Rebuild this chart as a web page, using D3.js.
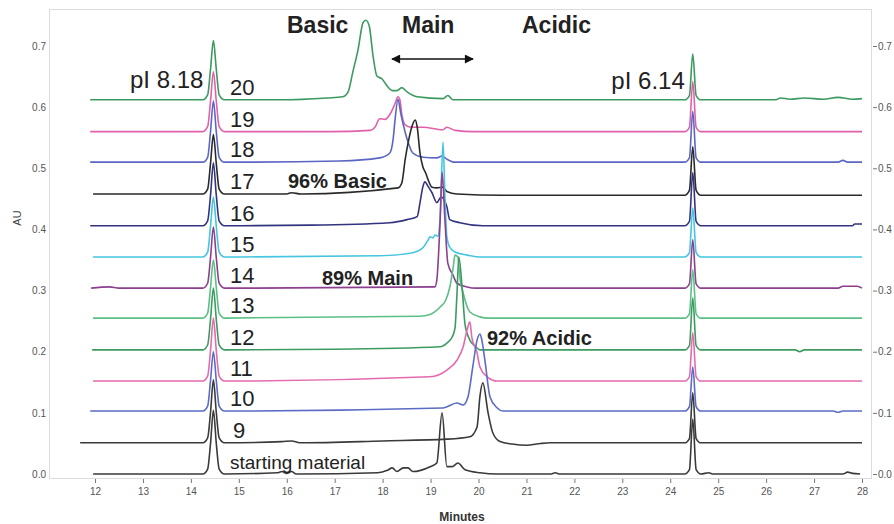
<!DOCTYPE html>
<html>
<head>
<meta charset="utf-8">
<script src="https://cdn.jsdelivr.net/npm/d3@7"></script>
<style>
  body { margin: 0; background: #fff; }
  svg { display: block; font-family: "Liberation Sans", Arial, sans-serif; }
  .tick-label { fill: #555; font-size: 10px; }
</style>
</head>
<body>
<div id="chart"></div>
<script>
// fractions, bottom to top
var fractions = ["starting material", "9", "10", "11", "12", "13", "14", "15", "16", "17", "18", "19", "20"];
var colors = ["#3a3a3a", "#3a3a3a", "#5b6bc6", "#e46aae", "#3d9b60", "#5cbf85", "#8c3f8f",
              "#45c5e0", "#33347f", "#2a2a2a", "#5b66c4", "#e060aa", "#3b9a5f"];
// stacking offset of each trace (AU)
var offsets = [0, 0.051, 0.103, 0.152, 0.203, 0.255, 0.304, 0.355, 0.406, 0.458, 0.51, 0.56, 0.612];

var xTicks = [12, 13, 14, 15, 16, 17, 18, 19, 20, 21, 22, 23, 24, 25, 26, 27, 28];
var yTicks = [0, 0.1, 0.2, 0.3, 0.4, 0.5, 0.6, 0.7];

// [minutes, AU above the trace's own baseline]
var smTrace = [[11.96,0],[14.25,0],[14.35,0.008],[14.41,0.05],[14.47,0.104],[14.53,0.05],[14.59,0.008],[14.7,0],
  [15.8,0.002],[15.9,0.004],[16.0,0.001],[16.1,0.004],[16.2,0],[17.9,0.002],[18.1,0.006],[18.2,0.01],[18.3,0.004],
  [18.43,0.01],[18.53,0.01],[18.63,0.004],[18.99,0.012],[19.13,0.018],[19.24,0.1],[19.34,0.012],[19.45,0.012],
  [19.57,0.018],[19.72,0.007],[20.03,0.002],[20.4,0],[21.5,0],[21.6,0.002],[21.7,0],[24.3,0],[24.4,0.007],
  [24.47,0.09],[24.54,0.007],[24.64,0],[24.8,0.002],[24.9,0],[27.6,0],[27.7,0.003],[27.8,0.001],[27.96,0]];
var f9 = [[11.69,0],[14.25,0],[14.35,0.008],[14.41,0.05],[14.47,0.103],[14.53,0.05],[14.59,0.008],[14.7,0],
  [15.9,0.002],[16.1,0.003],[16.3,0],[18.0,0.003],[19.34,0.006],[19.82,0.01],[19.97,0.026],[20.03,0.076],
  [20.09,0.098],[20.2,0.049],[20.3,0.016],[20.45,0.002],[20.7,-0.002],[21.0,-0.004],[21.3,-0.001],[21.5,0],
  [24.3,0],[24.4,0.007],[24.47,0.082],[24.54,0.007],[24.64,0],[28.0,0]];
var f10 = [[11.9,0],[14.25,0],[14.35,0.008],[14.41,0.05],[14.47,0.097],[14.53,0.05],[14.59,0.008],[14.7,0],
  [19.26,0.005],[19.55,0.013],[19.68,0.01],[19.78,0.023],[19.88,0.072],[19.97,0.116],[20.03,0.126],[20.07,0.116],
  [20.14,0.079],[20.24,0.023],[20.39,0.005],[20.51,0],[24.3,0],[24.4,0.007],[24.47,0.072],[24.54,0.007],
  [24.64,0],[27.4,0],[27.5,-0.002],[27.6,0],[28.0,0]];
var f11 = [[11.96,0],[14.25,0],[14.35,0.008],[14.41,0.05],[14.47,0.103],[14.53,0.05],[14.59,0.008],[14.7,0],
  [18.99,0.007],[19.34,0.018],[19.55,0.034],[19.68,0.056],[19.76,0.083],[19.82,0.097],[19.86,0.072],
  [19.97,0.046],[20.03,0.023],[20.18,0.007],[20.39,0],[24.3,0],[24.4,0.007],[24.47,0.079],[24.54,0.007],
  [24.64,0],[28.0,0]];
var f12 = [[11.94,0],[14.25,0],[14.35,0.008],[14.41,0.05],[14.47,0.101],[14.53,0.05],[14.59,0.008],[14.7,0],
  [17.0,0.001],[19.2,0.005],[19.34,0.011],[19.45,0.021],[19.51,0.036],[19.55,0.09],[19.59,0.152],[19.66,0.1],
  [19.72,0.041],[19.82,0.016],[19.93,0.006],[20.03,0],[24.3,0],[24.4,0.007],[24.47,0.085],[24.54,0.007],
  [24.64,0],[26.6,0],[26.7,-0.003],[26.8,0],[28.0,0]];
var f13 = [[11.96,0],[14.25,0],[14.35,0.008],[14.41,0.05],[14.47,0.095],[14.53,0.05],[14.59,0.008],[14.7,0],
  [18.78,0.003],[18.99,0.006],[19.2,0.018],[19.32,0.03],[19.4,0.05],[19.47,0.082],[19.51,0.103],[19.57,0.1],
  [19.61,0.067],[19.68,0.041],[19.82,0.01],[20.03,0.002],[20.2,0],[24.3,0],[24.4,0.007],[24.47,0.079],
  [24.54,0.007],[24.64,0],[28.0,0]];
var f14 = [[11.92,0],[12.3,0.002],[12.5,0],[14.25,0],[14.35,0.008],[14.41,0.05],[14.47,0.1],[14.53,0.05],
  [14.59,0.008],[14.7,0],[19.09,0.002],[19.13,0.013],[19.2,0.111],[19.24,0.19],[19.3,0.111],[19.36,0.041],
  [19.47,0.021],[19.55,0.008],[19.76,0.002],[19.95,0],[24.3,0],[24.4,0.007],[24.47,0.079],[24.54,0.007],
  [24.64,0],[27.5,0],[27.6,0.003],[27.9,0.003],[28.0,0]];
var f15 = [[11.96,0],[14.25,0],[14.35,0.008],[14.41,0.05],[14.47,0.098],[14.53,0.05],[14.59,0.008],[14.7,0],
  [17.94,0.002],[18.63,0.007],[18.84,0.015],[18.95,0.028],[18.99,0.033],[19.05,0.031],[19.09,0.036],
  [19.15,0.034],[19.2,0.065],[19.26,0.188],[19.3,0.098],[19.34,0.033],[19.4,0.016],[19.51,0.008],
  [19.76,0.003],[20.0,0],[24.3,0],[24.4,0.007],[24.47,0.08],[24.54,0.007],[24.64,0],[28.0,0]];
var f16 = [[11.9,0],[14.25,0],[14.35,0.008],[14.41,0.05],[14.47,0.103],[14.53,0.05],[14.59,0.008],[14.7,0],
  [16.5,0.001],[18.15,0.005],[18.51,0.01],[18.72,0.015],[18.78,0.038],[18.84,0.064],[18.88,0.072],
  [18.95,0.064],[19.03,0.054],[19.13,0.038],[19.22,0.047],[19.3,0.04],[19.34,0.031],[19.4,0.01],
  [19.61,0.005],[20.09,0],[24.3,0],[24.4,0.007],[24.47,0.087],[24.54,0.007],[24.64,0],[27.8,0],
  [27.85,0.003],[28.0,0.003]];
var f17 = [[11.96,0],[14.25,0],[14.35,0.008],[14.41,0.05],[14.47,0.097],[14.53,0.05],[14.59,0.008],[14.7,0],
  [16.0,0],[16.1,0.002],[16.3,0],[18.32,0.01],[18.4,0.018],[18.47,0.056],[18.53,0.083],[18.61,0.11],
  [18.68,0.121],[18.72,0.11],[18.78,0.067],[18.84,0.044],[18.9,0.034],[18.95,0.023],[19.03,0.011],
  [19.13,0.01],[19.26,0.011],[19.34,0.004],[19.55,0],[20.5,-0.002],[24.3,-0.002],[24.4,0.006],
  [24.47,0.077],[24.54,0.006],[24.64,-0.002],[28.0,-0.002]];
var f18 = [[11.9,0],[14.25,0],[14.35,0.008],[14.41,0.05],[14.47,0.1],[14.53,0.05],[14.59,0.008],[14.7,0],
  [17.11,0.002],[17.94,0.007],[18.15,0.015],[18.22,0.038],[18.26,0.07],[18.32,0.103],[18.38,0.079],
  [18.47,0.049],[18.53,0.033],[18.63,0.015],[18.84,0.008],[19.13,0.007],[19.24,0.01],[19.34,0.005],
  [19.51,0],[24.3,0],[24.4,0.007],[24.47,0.083],[24.54,0.007],[24.64,0],[27.5,0],[27.6,0.003],[27.7,0],[28.0,0]];
var f19 = [[11.9,0],[14.25,0],[14.35,0.008],[14.41,0.05],[14.47,0.098],[14.53,0.05],[14.59,0.008],[14.7,0],
  [16.9,0],[17.74,0.002],[17.84,0.007],[17.94,0.021],[18.05,0.02],[18.15,0.028],[18.26,0.046],[18.32,0.057],
  [18.36,0.052],[18.4,0.028],[18.47,0.011],[18.61,0.007],[18.84,0.007],[19.26,0.003],[19.34,0.007],
  [19.51,0.002],[19.9,0],[24.3,0],[24.4,0.007],[24.47,0.082],[24.54,0.007],[24.64,0],[28.0,0]];
var f20 = [[11.9,0],[14.25,0],[14.35,0.008],[14.41,0.05],[14.47,0.097],[14.53,0.05],[14.59,0.008],[14.7,0],
  [15.86,0],[16.84,0.003],[17.17,0.005],[17.28,0.013],[17.38,0.046],[17.49,0.083],[17.59,0.126],
  [17.65,0.13],[17.72,0.121],[17.8,0.072],[17.88,0.039],[17.99,0.034],[18.09,0.023],[18.2,0.015],
  [18.3,0.015],[18.4,0.02],[18.51,0.013],[18.72,0.005],[19.26,0.002],[19.36,0.007],[19.47,0],
  [24.3,0],[24.4,0.007],[24.47,0.075],[24.54,0.007],[24.64,0],[26.2,0],[26.3,0.003],[26.5,0.001],
  [26.8,0.003],[27.2,0.001],[27.5,0.004],[27.8,0.001],[28.0,0.002]];

var traces = [smTrace, f9, f10, f11, f12, f13, f14, f15, f16, f17, f18, f19, f20];

var svgWidth = 894;
var svgHeight = 524;

var svg = d3.select("#chart")
  .append("svg")
  .attr("width", svgWidth)
  .attr("height", svgHeight);

var xScale = d3.scaleLinear().domain([12, 28]).range([95, 862]);
var yScale = d3.scaleLinear().domain([0, 0.7]).range([474, 46]);

// plot frame
svg.append("rect")
  .attr("x", 49.5).attr("y", 9.5)
  .attr("width", 822).attr("height", 469)
  .attr("fill", "none")
  .attr("stroke", "#dcdcdc");

// bottom axis
var bottomAxis = d3.axisBottom(xScale).tickValues(xTicks).tickSize(4).tickPadding(5).tickFormat(d3.format("d"));
var gx = svg.append("g").attr("transform", "translate(0, 479)").call(bottomAxis);
gx.select(".domain").remove();
gx.selectAll("line").attr("stroke", "#777");
gx.selectAll("text").attr("class", "tick-label").attr("font-family", null).attr("font-size", null);

// left axis: labels only
var leftAxis = d3.axisLeft(yScale).tickValues(yTicks).tickSize(0).tickPadding(3).tickFormat(d3.format(".1f"));
var gy = svg.append("g").attr("transform", "translate(49, 0)").call(leftAxis);
gy.select(".domain").remove();
gy.selectAll("text").attr("class", "tick-label").attr("font-family", null).attr("font-size", null);

// right axis, pushed against the page edge
var rightAxis = d3.axisRight(yScale).tickValues(yTicks).tickSize(4).tickPadding(1).tickFormat(d3.format(".1f"));
var gr = svg.append("g").attr("transform", "translate(873, 0)").call(rightAxis);
gr.select(".domain").remove();
gr.selectAll("line").attr("stroke", "#777");
gr.selectAll("text").attr("class", "tick-label").attr("font-family", null).attr("font-size", null);

svg.append("text")
  .attr("transform", "translate(21, 218) rotate(-90)")
  .attr("text-anchor", "middle")
  .attr("font-size", 11)
  .attr("fill", "#444")
  .text("AU");

svg.append("text")
  .attr("x", 462).attr("y", 521)
  .attr("text-anchor", "middle")
  .attr("font-size", 12)
  .attr("font-weight", "bold")
  .attr("fill", "#333")
  .text("Minutes");

// traces, top first so lower ones sit on top
var idx = d3.range(fractions.length).reverse();
idx.forEach(function(i) {
  var line = d3.line()
    .x(d => xScale(d[0]))
    .y(d => yScale(d[1] + offsets[i]))
    .curve(d3.curveMonotoneX);
  svg.append("path")
    .datum(traces[i])
    .attr("d", line)
    .attr("fill", "none")
    .attr("stroke", colors[i])
    .attr("stroke-width", 1.6)
    .attr("stroke-linejoin", "round");
});

// fraction labels
fractions.forEach(function(f, i) {
  svg.append("text")
    .attr("x", f === "9" ? 233 : 230)
    .attr("y", yScale(offsets[i]) - 5)
    .attr("font-size", i === 0 ? 19 : 22)
    .attr("fill", "#222")
    .text(f);
});

// marker labels
svg.append("text").attr("x", xScale(14.47) - 10).attr("y", 88)
  .attr("text-anchor", "end").attr("font-size", 24).attr("fill", "#222").text("pI 8.18");
svg.append("text").attr("x", xScale(24.47) - 8).attr("y", 89)
  .attr("text-anchor", "end").attr("font-size", 24).attr("fill", "#222").text("pI 6.14");

// region headers
var headers = [["Basic", 287], ["Main", 402], ["Acidic", 522]];
headers.forEach(function(h) {
  svg.append("text").attr("x", h[1]).attr("y", 33)
    .attr("font-size", 23).attr("font-weight", "bold").attr("fill", "#222").text(h[0]);
});

// double arrow
var defs = svg.append("defs");
defs.append("marker")
  .attr("id", "ah").attr("viewBox", "0 0 10 10").attr("refX", 9).attr("refY", 5)
  .attr("markerWidth", 12).attr("markerHeight", 9).attr("markerUnits", "userSpaceOnUse")
  .attr("orient", "auto-start-reverse")
  .append("path").attr("d", "M0,0 L10,5 L0,10 z").attr("fill", "#111");
svg.append("line")
  .attr("x1", 392).attr("x2", 473).attr("y1", 59).attr("y2", 59)
  .attr("stroke", "#111").attr("stroke-width", 1.5)
  .attr("marker-start", "url(#ah)").attr("marker-end", "url(#ah)");

// purity annotations
var notes = [["96% Basic", 288, 188], ["89% Main", 322, 285], ["92% Acidic", 487, 345]];
notes.forEach(function(n) {
  svg.append("text").attr("x", n[1]).attr("y", n[2])
    .attr("font-size", 20).attr("font-weight", "bold").attr("fill", "#222").text(n[0]);
});
</script>
</body>
</html>
